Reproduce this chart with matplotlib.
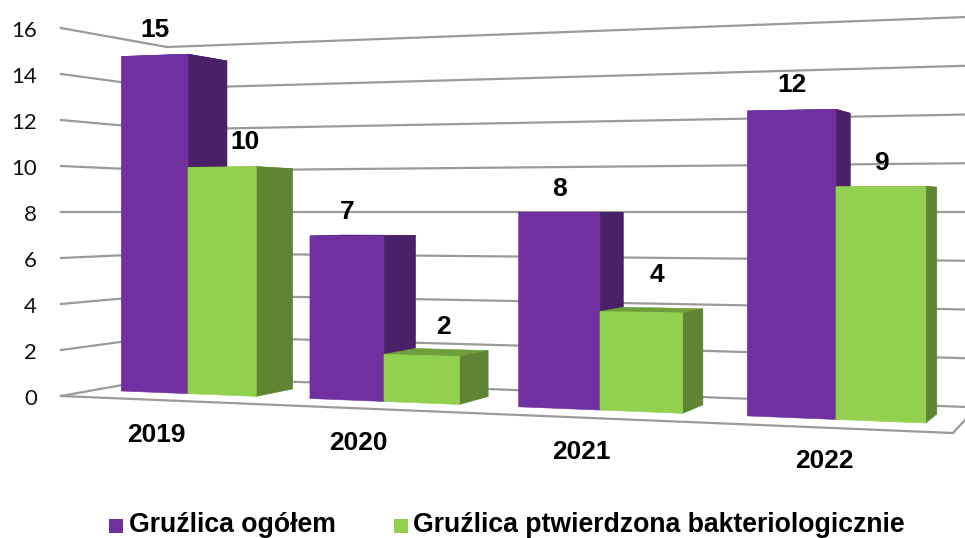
import matplotlib
matplotlib.use('Agg')
import matplotlib.pyplot as plt
from matplotlib.patches import Polygon, Rectangle

years = ['2019', '2020', '2021', '2022']
total_cases = [15, 7, 8, 12]
confirmed_cases = [10, 2, 4, 9]
y_ticks = [0, 2, 4, 6, 8, 10, 12, 14, 16]
series_names = ['Gruźlica ogółem', 'Gruźlica ptwierdzona bakteriologicznie']

PURPLE = '#7030A0'
PURPLE_SIDE = '#4A2068'
GREEN = '#92D050'
GREEN_SIDE = '#5F8432'
GREEN_TOP = '#6E9F3B'
GRID = '#9A9A9A'
LEFT_HALF = 0.366
RIGHT_HALF = 0.36


# Perspective of the fake 3D scene, everything in image pixels
def cat_x(u):
    return 188 + 186 * u + 10 * u ** 2


def depth(x):
    return 39 - 0.038 * (x - 188)


def front_point(x, value):
    base = 391 + 0.0398 * (x - 121)
    return x, base - value * (22.3 + 0.00497 * (x - 121))


def back_point(x, value):
    xb = x + depth(x)
    base = 389 + 0.0389 * (xb - 294)
    return xb, base - value * (21.7 + 0.00493 * (xb - 227))


def wall_y(x, value):
    return 212 + (8 - value) * (19.84 + 0.00469 * x)


def draw_bar(ax, u0, u1, value, face, side, top):
    x0, x1 = cat_x(u0), cat_x(u1)
    ax.add_patch(Polygon([front_point(x0, value), front_point(x1, value),
                          back_point(x1, value), back_point(x0, value)],
                         facecolor=top, edgecolor=top, lw=0.4, zorder=3))
    ax.add_patch(Polygon([front_point(x1, 0), front_point(x1, value),
                          back_point(x1, value), back_point(x1, 0)],
                         facecolor=side, edgecolor=side, lw=0.4, zorder=3))
    ax.add_patch(Polygon([front_point(x0, 0), front_point(x1, 0),
                          front_point(x1, value), front_point(x0, value)],
                         facecolor=face, edgecolor=face, lw=0.4, zorder=3))


fig = plt.figure(figsize=(9.65, 5.38), dpi=100)
fig.patch.set_facecolor('white')
ax = fig.add_axes([0, 0, 1, 1])
ax.set_xlim(0, 965)
ax.set_ylim(538, 0)
ax.axis('off')

# Walls and floor
for v in y_ticks:
    left = 212 + (8 - v) * 23
    ax.plot([61, 167, 965], [left, wall_y(167, v), wall_y(965, v)],
            color=GRID, lw=1.6, zorder=1, solid_joinstyle='miter')
    ax.text(37, left + 3, str(v), ha='right', va='center', fontsize=16,
            family='Lato', color='#111111')
ax.plot([61, 953, 965], [396, 433, 420], color=GRID, lw=1.6, zorder=1,
        solid_joinstyle='miter')

# Bars, drawn back to front inside each pair
for i in range(len(years)):
    draw_bar(ax, i - LEFT_HALF, i, total_cases[i], PURPLE, PURPLE_SIDE, PURPLE_SIDE)
    draw_bar(ax, i, i + RIGHT_HALF, confirmed_cases[i], GREEN, GREEN_SIDE, GREEN_TOP)

# Value labels sit above the bars, green ones are nudged towards the side face
green_label_dx = [23, 22, 16, 1]
green_label_dy = [25, 27, 36, 24]
label_style = dict(ha='center', va='center', fontsize=19, fontweight='bold',
                   family='Liberation Sans', color='black', zorder=5)
for i in range(len(years)):
    x0, x1 = cat_x(i - LEFT_HALF), cat_x(i)
    ax.text((x0 + x1) / 2, front_point(x1, total_cases[i])[1] - 24,
            str(total_cases[i]), **label_style)
    x2 = cat_x(i + RIGHT_HALF)
    ax.text((x1 + x2) / 2 + green_label_dx[i],
            front_point(x1, confirmed_cases[i])[1] - green_label_dy[i],
            str(confirmed_cases[i]), **label_style)
    xl = cat_x(i) - 0.8 * depth(cat_x(i))
    ax.text(xl, front_point(xl, 0)[1] + 42.5, years[i], **label_style)

# Legend, baseline kept high enough for the descenders to stay in the image
legend_style = dict(ha='left', va='baseline', fontsize=19.15, fontweight='bold',
                    family='Liberation Sans', color='black')
ax.add_patch(Rectangle((109, 519), 14, 14, facecolor=PURPLE, edgecolor='none'))
ax.text(129, 532, series_names[0], **legend_style)
ax.add_patch(Rectangle((394, 519), 14, 14, facecolor=GREEN, edgecolor='none'))
ax.text(413, 532, series_names[1], **legend_style)

fig.savefig('out.png', dpi=100, facecolor='white')
plt.close(fig)
